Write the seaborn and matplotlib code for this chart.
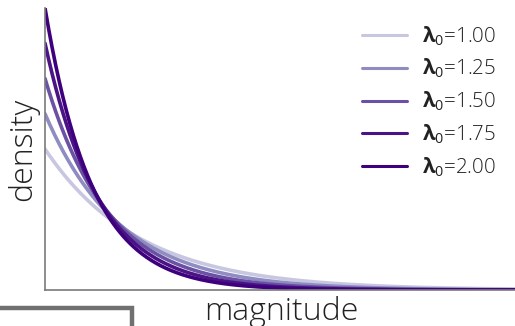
import numpy as np
import pandas as pd
import matplotlib
matplotlib.use("Agg")
import matplotlib.pyplot as plt
import seaborn as sns
from matplotlib.lines import Line2D

# data
lambdas = [1.00, 1.25, 1.50, 1.75, 2.00]
colors = ["#c8c7e1", "#8f8cc1", "#6a51a3", "#4a1486", "#3f007d"]
x_max = 5.0

sns.set_theme(style="white")
plt.rcParams["font.family"] = ["Open Sans", "DejaVu Sans"]
plt.rcParams["mathtext.fontset"] = "custom"
plt.rcParams["mathtext.rm"] = "Open Sans"
plt.rcParams["mathtext.bf"] = "Open Sans:bold"
plt.rcParams["mathtext.it"] = "Open Sans:italic"

xs = np.linspace(0, x_max, 400)
labels = [r"$\mathbf{λ}_\mathrm{0}$=" + f"{lam:.2f}" for lam in lambdas]
rows = []
for lam, label in zip(lambdas, labels):
    for xv in xs:
        rows.append({"magnitude": xv, "density": lam * np.exp(-lam * xv), "label": label})
df = pd.DataFrame(rows)

W, H = 515, 326
fig = plt.figure(figsize=(W / 100, H / 100), dpi=100)
ax = fig.add_axes([45 / W, 1 - 290 / H, 472 / W, 282 / H])

sns.lineplot(data=df, x="magnitude", y="density", hue="label", hue_order=labels,
             palette=colors, linewidth=2.6, ax=ax, legend=False)

ax.set_xlim(0, x_max)
ax.set_ylim(0, 2.0)
ax.set_xticks([])
ax.set_yticks([])
for s in ["top", "right"]:
    ax.spines[s].set_visible(False)
for s in ["left", "bottom"]:
    ax.spines[s].set_color("#7a7a7a")
    ax.spines[s].set_linewidth(1.2)

ax.set_xlabel("magnitude", fontsize=23, fontweight="light", color="#222222", labelpad=4)
ax.set_ylabel("density", fontsize=23, fontweight="light", color="#222222", labelpad=4)

handles = [Line2D([0], [0], color=c, lw=2.2) for c in colors]
leg = fig.legend(handles, labels, loc="upper left",
                 bbox_to_anchor=(362 / W, 1 - 24 / H), bbox_transform=fig.transFigure,
                 frameon=False, prop={"size": 14.8, "weight": "light"},
                 handlelength=2.2, handletextpad=0.72,
                 labelspacing=0.45, borderpad=0, borderaxespad=0)
for t in leg.get_texts():
    t.set_color("#222222")

# partial gray frame at bottom-left
fig.add_artist(Line2D([0, 132 / W, 132 / W], [1 - 308 / H, 1 - 308 / H, 0],
                      transform=fig.transFigure, color="#707070", lw=3.2,
                      solid_joinstyle="miter"))

fig.savefig("out.png", dpi=100)
